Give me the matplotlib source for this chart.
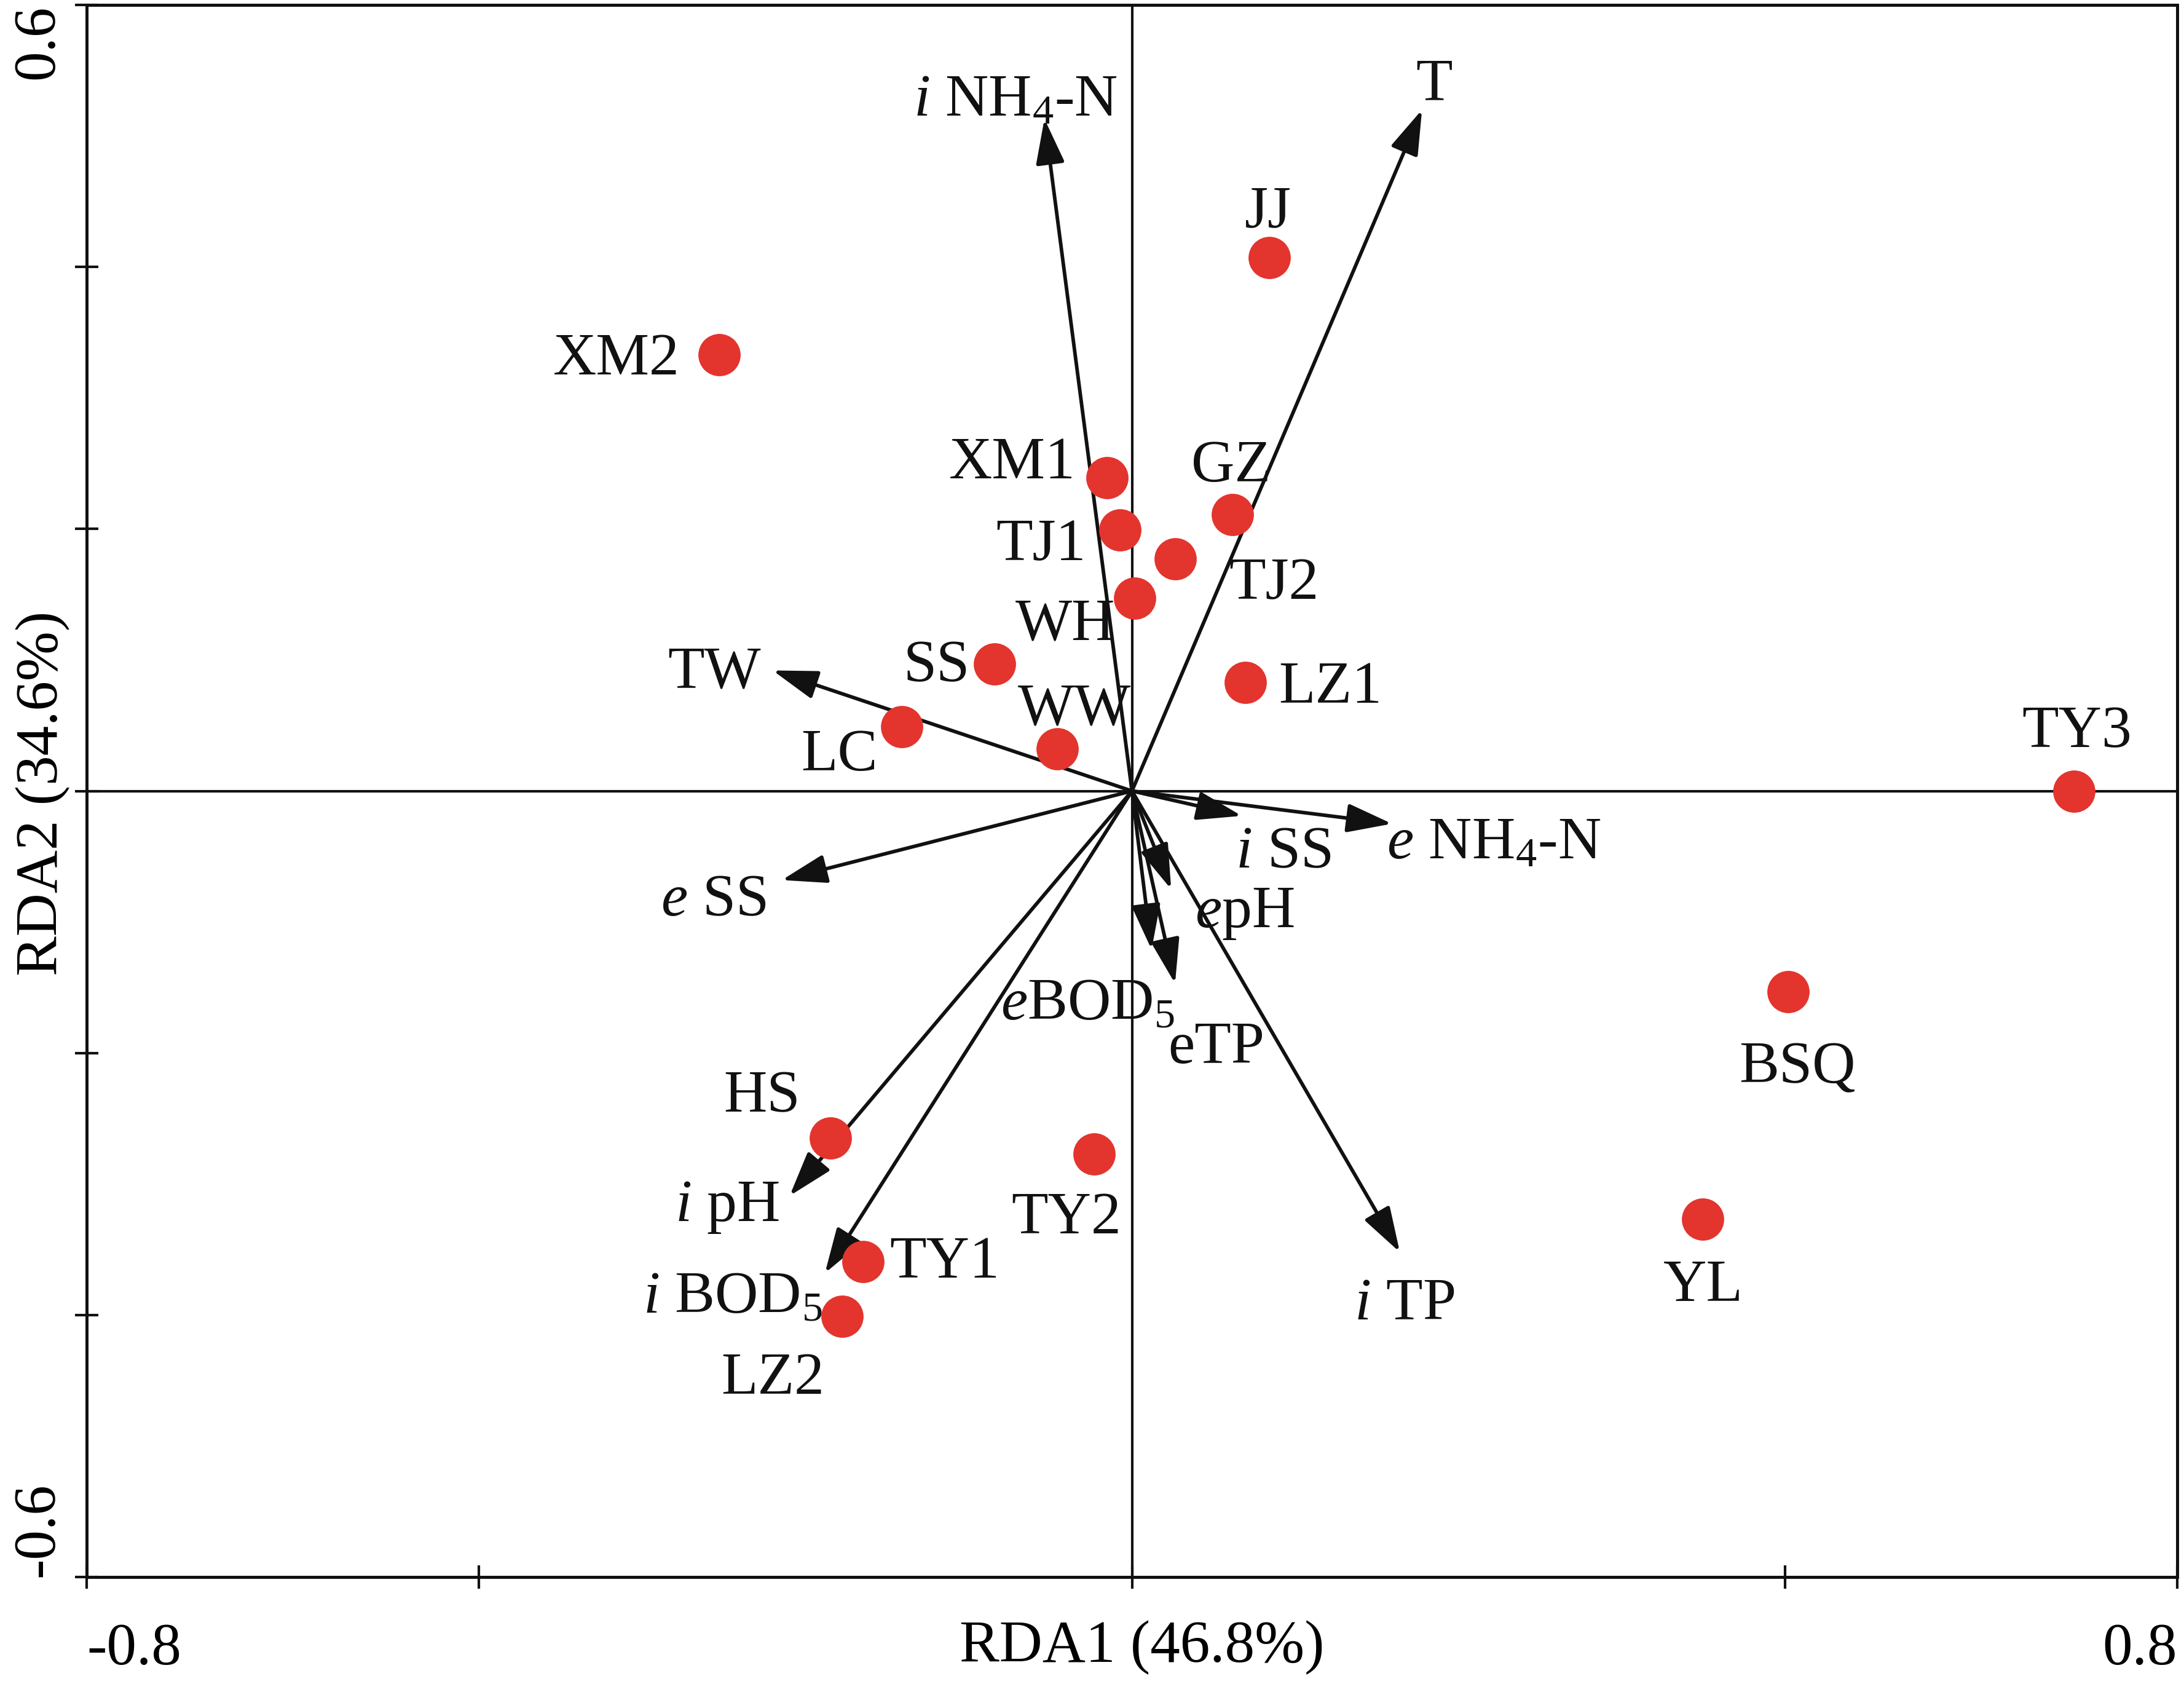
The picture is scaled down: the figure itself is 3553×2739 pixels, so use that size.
import matplotlib
matplotlib.use('Agg')
import matplotlib.pyplot as plt

plt.rcParams['font.family'] = ['Liberation Serif', 'DejaVu Serif']
plt.rcParams['mathtext.fontset'] = 'custom'
plt.rcParams['mathtext.rm'] = 'Liberation Serif'
plt.rcParams['mathtext.it'] = 'Liberation Serif:italic'

# ---- data: sampling sites (RDA1, RDA2) ----
sites = ['JJ', 'XM2', 'XM1', 'GZ', 'TJ1', 'TJ2', 'WH', 'SS', 'LZ1', 'LC', 'WW',
         'TY3', 'BSQ', 'HS', 'TY2', 'YL', 'TY1', 'LZ2']
site_x = [0.105, -0.316, -0.019, 0.077, -0.009, 0.033, 0.002, -0.105, 0.087, -0.176, -0.057,
          0.721, 0.502, -0.231, -0.029, 0.437, -0.206, -0.222]
site_y = [0.407, 0.333, 0.239, 0.211, 0.199, 0.177, 0.147, 0.097, 0.083, 0.049, 0.032,
          0.000, -0.153, -0.265, -0.277, -0.327, -0.359, -0.401]

# ---- data: environmental variables (arrow tips) ----
env_names = [r'$\mathit{i}$ $\mathrm{NH_4}$-N', 'T', 'TW', r'$\mathit{e}$ SS', r'$\mathit{i}$ SS',
             r'$\mathit{e}$ $\mathrm{NH_4}$-N', r'$\mathit{e}$pH', r'$\mathit{e}\mathrm{BOD_5}$',
             'eTP', r'$\mathit{i}$ TP', r'$\mathit{i}$ pH', r'$\mathit{i}$ $\mathrm{BOD_5}$']
env_x = [-0.067, 0.222, -0.275, -0.268, 0.084, 0.199, 0.030, 0.015, 0.033, 0.205, -0.262, -0.235]
env_y = [0.513, 0.520, 0.092, -0.068, -0.019, -0.025, -0.075, -0.121, -0.147, -0.352, -0.309, -0.368]

x_ticks = [-0.8, -0.5, 0.0, 0.5, 0.8]
x_ticklabels = ['-0.8', '', '', '', '0.8']
y_ticks = [-0.6, -0.4, -0.2, 0.0, 0.2, 0.4, 0.6]
y_ticklabels = ['-0.6', '', '', '', '', '', '0.6']
x_title = 'RDA1 (46.8%)'
y_title = 'RDA2 (34.6%)'

# ---- layout: label offsets in points ----
site_offsets = {
    'JJ': (-0.5, 18.7), 'XM2': (-40, -1), 'XM1': (-37, 6.5), 'GZ': (-0.5, 19.7),
    'TJ1': (-31, -5), 'TJ2': (38.6, -8.9), 'WH': (-27, -9.4), 'SS': (-22.8, 0),
    'LZ1': (33, -1.2), 'LC': (-24.5, -10.3), 'WW': (6.7, 16.3), 'TY3': (1.2, 24),
    'BSQ': (3.6, -28.8), 'HS': (-26.6, 17), 'TY2': (-10.8, -24.2), 'YL': (0, -25),
    'TY1': (32, 0.5), 'LZ2': (-27, -23.5),
}
env_offsets = [(-11.3, 8.2), (4.8, 10.6), (-22.8, 0), (-26.6, -7), (16.3, -13.4),
               (39.8, -6.5), (28.6, -8.4), (-25, -20.4), (16, -24.2), (1.7, -19.4),
               (-24.5, -3.4), (-36, -8.6)]
DY = -1.2  # small baseline correction (points)

FS = 23.4

fig = plt.figure(figsize=(3553 / 300, 2739 / 300), dpi=300)
ax = fig.add_axes([0.0397, 0.0635, 0.9572, 0.9336])
ax.set_xlim(-0.8, 0.8)
ax.set_ylim(-0.6, 0.6)

ax.axhline(0, color='#111111', lw=1.0, zorder=1)
ax.axvline(0, color='#111111', lw=1.0, zorder=1)

for name, ex, ey, off in zip(env_names, env_x, env_y, env_offsets):
    ax.annotate('', xy=(ex, ey), xytext=(0, 0), textcoords='data',
                arrowprops=dict(arrowstyle='-|>,head_length=0.75,head_width=0.24',
                                mutation_scale=20, lw=1.4, color='#111111',
                                shrinkA=0, shrinkB=0), zorder=2)
    ax.annotate(name, xy=(ex, ey), xytext=(off[0], off[1] + DY), textcoords='offset points',
                ha='center', va='center', fontsize=FS, color='#111111', zorder=4)

ax.plot(site_x, site_y, 'o', ms=16.5, color='#E3342E', mec='none', zorder=3)
for name, sx, sy in zip(sites, site_x, site_y):
    ox, oy = site_offsets[name]
    ax.annotate(name, xy=(sx, sy), xytext=(ox, oy + DY), textcoords='offset points',
                ha='center', va='center', fontsize=FS, color='#111111', zorder=4)

for sp in ax.spines.values():
    sp.set_linewidth(1.2)
    sp.set_color('#111111')

ax.set_xticks(x_ticks)
ax.set_xticklabels(x_ticklabels)
ax.set_yticks(y_ticks)
ax.set_yticklabels(y_ticklabels, rotation=90)
ax.tick_params(axis='x', direction='inout', length=9, width=1.0, labelsize=23.3, pad=13.4,
               color='#111111')
ax.tick_params(axis='y', direction='inout', length=9, width=1.0, labelsize=23.3, pad=3.5,
               color='#111111')
xl = ax.get_xticklabels()
xl[0].set_ha('left')
xl[-1].set_ha('right')
yl = ax.get_yticklabels()
yl[0].set_va('bottom')
yl[-1].set_va('top')

ax.set_xlabel(x_title, fontsize=23.3, va='center')
ax.xaxis.set_label_coords(0.5049, -0.045)
ax.set_ylabel(y_title, fontsize=23.3, va='center', ha='center')
ax.yaxis.set_label_coords(-0.0209, 0.4985)

fig.savefig('out.png', dpi=300)
